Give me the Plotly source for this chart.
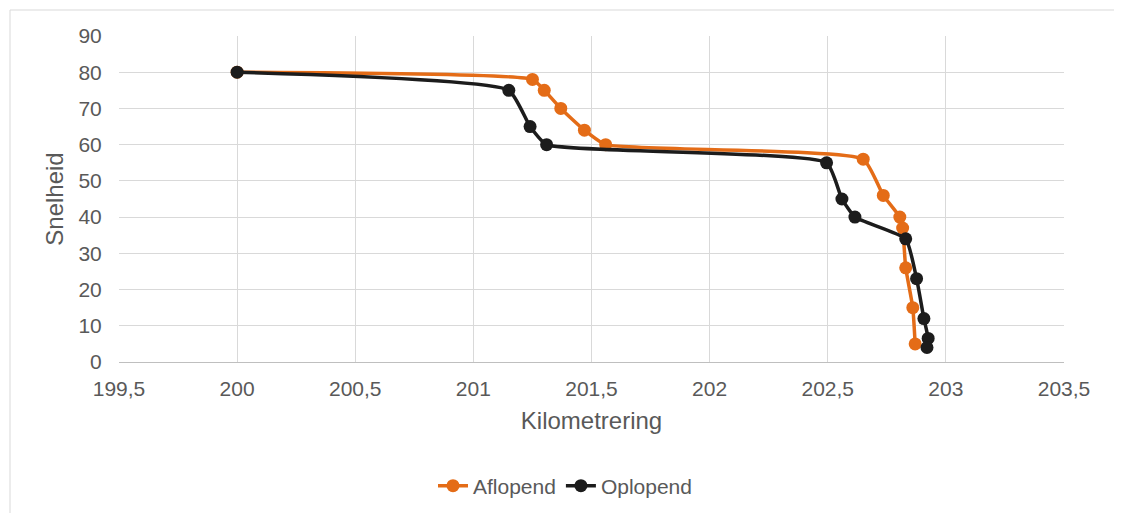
import plotly.graph_objects as go

# Data
afl_x = [200.0, 201.25, 201.30, 201.37, 201.47, 201.56, 202.65, 202.735, 202.805, 202.817, 202.83, 202.86, 202.87]
afl_y = [80, 78, 75, 70, 64, 60, 56, 46, 40, 37, 26, 15, 5]

opl_x = [200.0, 201.15, 201.24, 201.31, 202.495, 202.56, 202.615, 202.83, 202.876, 202.907, 202.925, 202.92]
opl_y = [80, 75, 65, 60, 55, 45, 40, 34, 23, 12, 6.5, 4]

x_ticks = [199.5, 200, 200.5, 201, 201.5, 202, 202.5, 203, 203.5]
x_labels = ["199,5", "200", "200,5", "201", "201,5", "202", "202,5", "203", "203,5"]

ORANGE = "#E46C17"
BLACK = "#1C1C1C"
GRAY = "#595959"
FONT = "Liberation Sans, Arial, sans-serif"

fig = go.Figure()
fig.add_trace(go.Scatter(
    x=afl_x, y=afl_y, name="Aflopend", mode="lines+markers",
    line=dict(color=ORANGE, width=3.5, shape="spline", smoothing=0.45),
    marker=dict(color=ORANGE, size=13),
))
fig.add_trace(go.Scatter(
    x=opl_x, y=opl_y, name="Oplopend", mode="lines+markers",
    line=dict(color=BLACK, width=3.5, shape="spline", smoothing=0.45),
    marker=dict(color=BLACK, size=13),
))

# page is rendered with an 8px body offset
W, H = 1122, 513
L, T = 111, 28
pw, ph = 945, 326
R = W - L - pw
B = H - T - ph

def px2paper(px, py):
    return (px - L) / pw, (T + ph - py) / ph

x0, y0 = px2paper(2, 2)
x1, y1 = px2paper(1109, 530)
fig.add_shape(type="rect", xref="paper", yref="paper", x0=x0, y0=y1, x1=x1, y1=y0,
              line=dict(color="#D9D9D9", width=1), fillcolor="rgba(0,0,0,0)", layer="below")

lx, ly = px2paper(557, 478)

fig.update_layout(
    width=W, height=H,
    margin=dict(l=L, r=R, t=T, b=B),
    paper_bgcolor="white", plot_bgcolor="white",
    font=dict(family=FONT, color=GRAY, size=21),
    showlegend=True,
    legend=dict(orientation="h", x=lx, xanchor="center", y=ly, yanchor="middle",
                font=dict(size=21, color=GRAY), traceorder="normal"),
    xaxis=dict(range=[199.5, 203.5], tickvals=x_ticks, ticktext=x_labels,
               showgrid=True, gridcolor="#D9D9D9", gridwidth=1,
               zeroline=False, showline=True, linecolor="#BFBFBF", linewidth=1,
               ticks="outside", ticklen=8, tickcolor="rgba(0,0,0,0)",
               tickfont=dict(size=21, color=GRAY),
               title=dict(text="Kilometrering", font=dict(size=24, color=GRAY), standoff=12)),
    yaxis=dict(range=[0, 90], dtick=10, showgrid=True, gridcolor="#D9D9D9", gridwidth=1,
               zeroline=False, showline=False,
               ticks="outside", ticklen=12, tickcolor="rgba(0,0,0,0)",
               tickfont=dict(size=21, color=GRAY),
               title=dict(text="Snelheid", font=dict(size=24, color=GRAY), standoff=8)),
)

fig.write_html("out.html")
